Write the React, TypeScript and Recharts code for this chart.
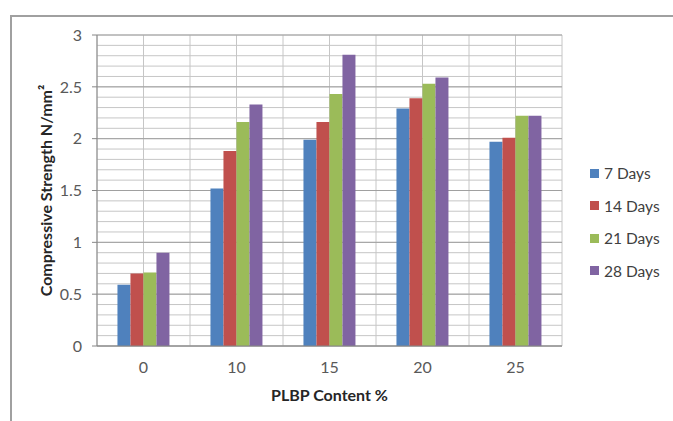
import React from "react"
import { BarChart, Bar, XAxis, YAxis, CartesianGrid, Legend } from "recharts"

const categories = ["0", "10", "15", "20", "25"]
const days7 = [0.59, 1.52, 1.99, 2.29, 1.97]
const days14 = [0.7, 1.88, 2.16, 2.39, 2.01]
const days21 = [0.71, 2.16, 2.43, 2.53, 2.22]
const days28 = [0.9, 2.33, 2.81, 2.59, 2.22]

const majorTicks = [0, 0.5, 1, 1.5, 2, 2.5, 3]
const minorTicks = [
  0, 0.1, 0.2, 0.3, 0.4, 0.5, 0.6, 0.7, 0.8, 0.9, 1, 1.1, 1.2, 1.3, 1.4, 1.5, 1.6, 1.7, 1.8, 1.9, 2, 2.1, 2.2,
  2.3, 2.4, 2.5, 2.6, 2.7, 2.8, 2.9, 3,
]
const yMax = 3
// vertical grid: category edges and centres (half-category steps)
const halfSteps = [0, 1, 2, 3, 4, 5, 6, 7, 8, 9, 10]

const series = [
  { key: "7 Days", color: "#4F81BD", values: days7 },
  { key: "14 Days", color: "#C0504D", values: days14 },
  { key: "21 Days", color: "#9BBB59", values: days21 },
  { key: "28 Days", color: "#8064A2", values: days28 },
]

const chartData = categories.map((c, i) => {
  const row: any = { name: c }
  series.forEach((s) => {
    row[s.key] = s.values[i]
  })
  return row
})

const font = "Lato, 'Open Sans', sans-serif"

const LegendBox = () => (
  <div style={{ fontFamily: font, fontSize: 15.5, color: "#404040" }}>
    {series.map((s) => (
      <div key={s.key} style={{ height: 32.5, display: "flex", alignItems: "center" }}>
        <span style={{ width: 9, height: 9, background: s.color, display: "inline-block", marginRight: 5 }} />
        <span>{s.key}</span>
      </div>
    ))}
  </div>
)

const minorRows = ({ offset }: any) => minorTicks.map((t) => offset.top + offset.height * (1 - t / yMax))
const halfCols = ({ offset }: any) => halfSteps.map((s) => offset.left + (offset.width * s) / 10)

export default function App() {
  return (
    <div style={{ position: "absolute", left: 0, top: 0, width: 673, height: 421, background: "#fff", overflow: "hidden" }}>
      <div
        style={{
          position: "absolute",
          left: 10,
          top: 15,
          width: 700,
          height: 450,
          borderTop: "2px solid #a0a0a0",
          borderLeft: "2px solid #a0a0a0",
        }}
      />
      <BarChart
        width={673}
        height={421}
        data={chartData}
        margin={{ top: 35, right: 111, left: 10, bottom: 0 }}
        barCategoryGap="22%"
        barGap={0}
        style={{ position: "absolute", left: 0, top: 0 }}
      >
        <CartesianGrid
          stroke="#c6c6c6"
          horizontalCoordinatesGenerator={minorRows}
          verticalCoordinatesGenerator={halfCols}
        />
        <CartesianGrid vertical={false} stroke="#a0a0a0" />
        <XAxis
          dataKey="name"
          height={75}
          tickLine={false}
          tickSize={0}
          tickMargin={16}
          axisLine={{ stroke: "#868686" }}
          tick={{ fontFamily: font, fontSize: 16, fill: "#595959" }}
          label={{
            value: "PLBP  Content %",
            position: "insideBottom",
            offset: 20,
            style: { fontFamily: font, fontSize: 16, fontWeight: "bold", fill: "#262626" },
          }}
        />
        <YAxis
          domain={[0, yMax]}
          ticks={majorTicks}
          width={87}
          tickSize={5}
          tickMargin={10}
          tickLine={{ stroke: "#868686" }}
          axisLine={{ stroke: "#868686" }}
          tick={{ fontFamily: font, fontSize: 16, fill: "#595959" }}
          label={({ viewBox }: any) => (
            <text
              x={45}
              y={viewBox.y + viewBox.height / 2}
              transform={`rotate(-90 45 ${viewBox.y + viewBox.height / 2})`}
              textAnchor="middle"
              dominantBaseline="central"
              style={{ fontFamily: font, fontSize: 16, fontWeight: "bold", fill: "#262626" }}
            >
              Compressive Strength N/mm²
            </text>
          )}
        />
        <Legend
          layout="vertical"
          align="center"
          verticalAlign="middle"
          content={<LegendBox />}
          wrapperStyle={{ left: 590, top: 157, width: 82 }}
        />
        {series.map((s) => (
          <Bar key={s.key} dataKey={s.key} fill={s.color} isAnimationActive={false} />
        ))}
      </BarChart>
    </div>
  )
}
